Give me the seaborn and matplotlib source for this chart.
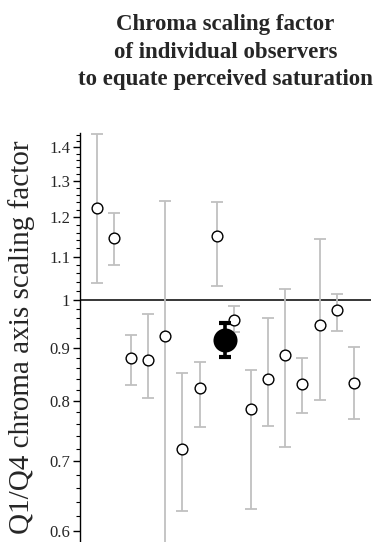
import numpy as np
import pandas as pd
import matplotlib
matplotlib.use("Agg")
import matplotlib.pyplot as plt
from matplotlib.ticker import FixedLocator, NullFormatter
import seaborn as sns

# ---- data ----
observers = list(range(1, 17))
scale = [1.224, 1.145, 0.879, 0.876, 0.924, 0.720, 0.823, 1.150,
         0.957, 0.786, 0.839, 0.885, 0.831, 0.946, 0.977, 0.833]
upper = [1.443, 1.212, 0.926, 0.969, 1.243, 0.851, 0.872, 1.2415,
         0.9875, 0.856, 0.960, 1.024, 0.880, 1.143, 1.013, 0.901]
lower = [1.038, 1.079, 0.828, 0.806, 0.560, 0.627, 0.7555, 1.031,
         0.9324, 0.630, 0.757, 0.722, 0.779, 0.801, 0.9345, 0.769]
mean_value = [0.9155]
mean_upper = [0.950]
mean_lower = [0.882]
mean_pos = [8.5]
ytick_values = [0.6, 0.7, 0.8, 0.9, 1.0, 1.1, 1.2, 1.3, 1.4]
ytick_labels = ["0.6", "0.7", "0.8", "0.9", "1", "1.1", "1.2", "1.3", "1.4"]

df = pd.DataFrame({"observer": observers, "scale": scale,
                   "upper": upper, "lower": lower})
dm = pd.DataFrame({"pos": mean_pos, "scale": mean_value,
                   "upper": mean_upper, "lower": mean_lower})

sns.set_style("white")
serif = ["Liberation Serif", "DejaVu Serif"]
plt.rcParams["font.family"] = serif

fig = plt.figure(figsize=(3.83, 5.42), dpi=100)
ax = fig.add_axes([80/383, 0.0, 291/383, 1 - 133/542])

ax.axhline(1.0, color="black", lw=1.1, zorder=1)

# individual error bars
ax.errorbar(df["observer"], df["scale"],
            yerr=[df["scale"] - df["lower"], df["upper"] - df["scale"]],
            fmt="none", ecolor="#c0c0c0", elinewidth=1.3, capsize=4.3,
            capthick=1.3, zorder=2)
sns.scatterplot(data=df, x="observer", y="scale", ax=ax, marker="o",
                s=60, facecolor="white", edgecolor="black", linewidth=1.0,
                zorder=3, legend=False)

# mean
ax.errorbar(dm["pos"], dm["scale"],
            yerr=[dm["scale"] - dm["lower"], dm["upper"] - dm["scale"]],
            fmt="none", ecolor="black", elinewidth=2.6, capsize=4.3,
            capthick=3, zorder=4)
sns.scatterplot(data=dm, x="pos", y="scale", ax=ax, marker="o",
                s=300, color="black", edgecolor="black", linewidth=0,
                zorder=5, legend=False)

ax.set_yscale("log")
ax.set_ylim(0.586, 1.445)
ax.set_xlim(0.03, 17.0)
ax.yaxis.set_major_locator(FixedLocator(ytick_values))
ax.set_yticklabels(ytick_labels)
minor = [round(v, 2) for v in np.arange(0.58, 1.46, 0.02)]
ax.yaxis.set_minor_locator(FixedLocator(minor))
ax.yaxis.set_minor_formatter(NullFormatter())
ax.tick_params(axis="y", which="major", direction="out", length=5,
               width=1, color="black", labelsize=12, pad=2, left=True)
ax.tick_params(axis="y", which="minor", direction="out", length=3,
               width=0.8, color="black", left=True)
ax.set_xticks([])
for s in ["top", "right", "bottom"]:
    ax.spines[s].set_visible(False)
ax.spines["left"].set_color("black")
ax.spines["left"].set_linewidth(1)

ax.set_xlabel("")
ax.set_ylabel("Q1/Q4 chroma axis scaling factor", fontsize=21)
ax.yaxis.set_label_coords(-(80 - 35) / 291, 0.5)

fig.text(225.5/383, 1 - 52/542,
         "Chroma scaling factor\nof individual observers\nto equate perceived saturation",
         ha="center", va="center", fontsize=16.5, fontweight="bold",
         linespacing=1.4)

fig.savefig("out.png", dpi=100)
